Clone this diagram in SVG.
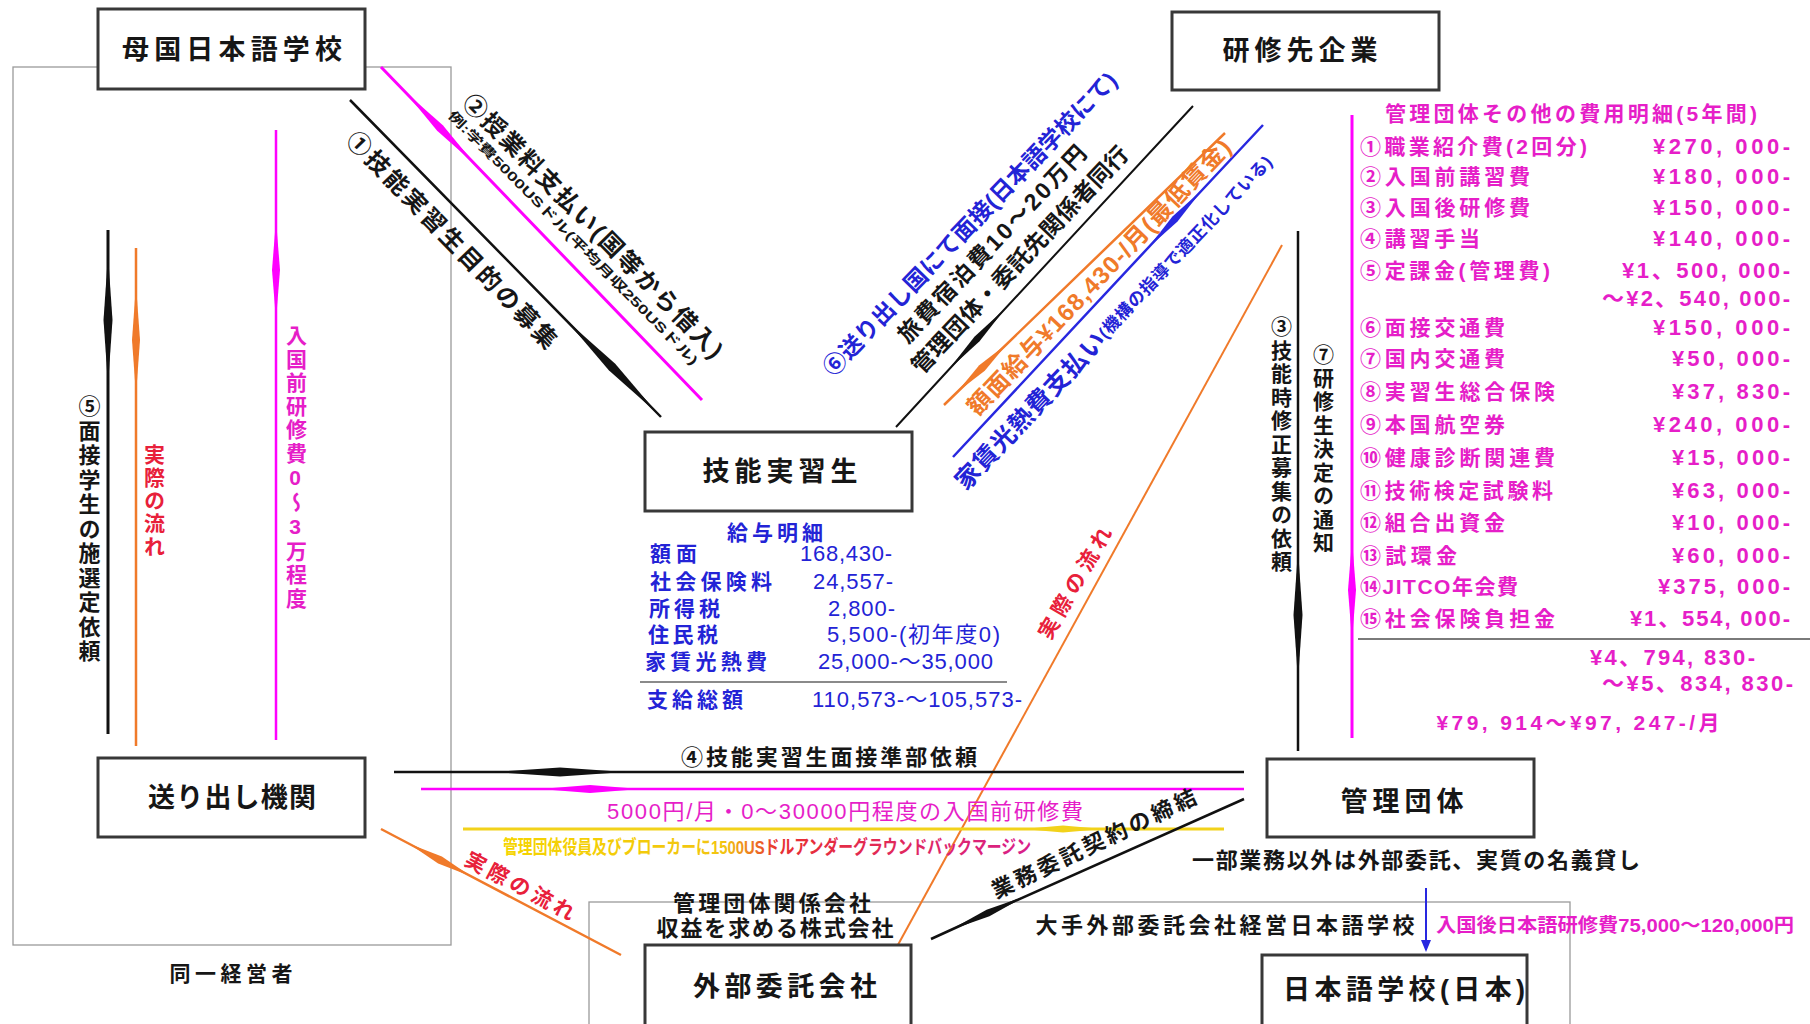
<svg xmlns="http://www.w3.org/2000/svg" width="1810" height="1024" viewBox="0 0 1810 1024">
<style>
text { font-family: 'Liberation Sans','Noto Sans CJK JP',sans-serif; dominant-baseline: central; font-weight: bold; }
.box { fill:#fff; stroke:#383838; stroke-width:3; }
.grp { fill:none; stroke:#9a9a9a; stroke-width:1.3; }
.bl { font-size:27px; fill:#161616; text-anchor:middle; }
.k { fill:#161616; }
.m { fill:#e61ec8; }
.b { fill:#2323d6; }
.r { fill:#e8203a; }
.o { fill:#f07a2a; }
.nw { font-weight:normal; }
.vt { writing-mode: vertical-rl; text-orientation: upright; }
.tb { font-size:21px; fill:#2323d6; }
.tn { font-size:22px; fill:#2323d6; font-weight:normal; }
.rt { font-size:21px; fill:#e61ec8; }
.rv { font-size:22px; fill:#e61ec8; text-anchor:end; }
.ln { fill:none; stroke-linecap:butt; }
</style>
<defs>
<marker id="spK" markerUnits="userSpaceOnUse" viewBox="-70 -6 140 12" markerWidth="140" markerHeight="12" refX="0" refY="0" orient="auto" overflow="visible"><path d="M-65,0 L0,-4.5 L65,0 L0,4.5 Z" fill="#111"/></marker>
<marker id="spKs" markerUnits="userSpaceOnUse" viewBox="-45 -5 90 10" markerWidth="90" markerHeight="10" refX="0" refY="0" orient="auto" overflow="visible"><path d="M-42,0 L0,-3.5 L42,0 L0,3.5 Z" fill="#111"/></marker>
<marker id="spM" markerUnits="userSpaceOnUse" viewBox="-55 -5 110 10" markerWidth="110" markerHeight="10" refX="0" refY="0" orient="auto" overflow="visible"><path d="M-50,0 L0,-4 L50,0 L0,4 Z" fill="#ff00ff"/></marker>
<marker id="spO" markerUnits="userSpaceOnUse" viewBox="-60 -5 120 10" markerWidth="120" markerHeight="10" refX="0" refY="0" orient="auto" overflow="visible"><path d="M-55,0 L0,-4 L55,0 L0,4 Z" fill="#f07a2a"/></marker>
<marker id="spOs" markerUnits="userSpaceOnUse" viewBox="-40 -5 80 10" markerWidth="80" markerHeight="10" refX="0" refY="0" orient="auto" overflow="visible"><path d="M-35,0 L0,-4 L35,0 L0,4 Z" fill="#f07a2a"/></marker>
<marker id="spB" markerUnits="userSpaceOnUse" viewBox="-45 -5 90 10" markerWidth="90" markerHeight="10" refX="0" refY="0" orient="auto" overflow="visible"><path d="M-40,0 L0,-3.5 L40,0 L0,3.5 Z" fill="#2828e0"/></marker>
<marker id="spY" markerUnits="userSpaceOnUse" viewBox="-45 -5 90 10" markerWidth="90" markerHeight="10" refX="0" refY="0" orient="auto" overflow="visible"><path d="M-40,0 L0,-3.5 L40,0 L0,3.5 Z" fill="#f2d21a"/></marker>
<marker id="arrB" markerUnits="userSpaceOnUse" viewBox="0 -6 12 12" markerWidth="12" markerHeight="12" refX="10" refY="0" orient="auto"><path d="M0,-5 L12,0 L0,5 Z" fill="#2828e0"/></marker>
<linearGradient id="yg" x1="503" y1="0" x2="1031" y2="0" gradientUnits="userSpaceOnUse">
<stop offset="0" stop-color="#f5d400"/><stop offset="0.42" stop-color="#f2c412"/><stop offset="0.52" stop-color="#e83030"/><stop offset="1" stop-color="#d8208a"/>
</linearGradient>
</defs>
<rect width="1810" height="1024" fill="#fff"/>

<g id="groupings">
<rect class="grp" x="13" y="67" width="438" height="878"/>
<rect class="grp" x="589" y="902" width="981" height="140"/>
<text x="231" y="973" class="k" font-size="21" text-anchor="middle" textLength="123">同一経営者</text>
</g>

<g id="connectors">
<path class="ln" d="M350,100 L612,367 L661,417" stroke="#111" stroke-width="2.5" marker-mid="url(#spK)"/>
<path class="ln" d="M702,400 L440,128 L381,67" stroke="#ff00ff" stroke-width="3" marker-mid="url(#spM)"/>
<path class="ln" d="M896,427 L977,339 L1193,106" stroke="#111" stroke-width="2" marker-mid="url(#spKs)"/>
<path class="ln" d="M944,405 L982,368 L1225,133" stroke="#f07a2a" stroke-width="2.5" marker-mid="url(#spOs)"/>
<path class="ln" d="M953,457 L1175,219 L1263,125" stroke="#2828e0" stroke-width="2.5" marker-mid="url(#spB)"/>
<path class="ln" d="M888,963 L1282,245" stroke="#f07a2a" stroke-width="2"/>
<path class="ln" d="M1298,231 L1298,615 L1298,751" stroke="#111" stroke-width="2.5" marker-mid="url(#spK)"/>
<path class="ln" d="M1352,115 L1352,590 L1352,738" stroke="#ff00ff" stroke-width="3" marker-mid="url(#spM)"/>
<path class="ln" d="M108,230 L108,320 L108,734" stroke="#111" stroke-width="3" marker-mid="url(#spK)"/>
<path class="ln" d="M136,248 L136,340 L136,746" stroke="#f07a2a" stroke-width="2.5" marker-mid="url(#spO)"/>
<path class="ln" d="M276,130 L276,270 L276,740" stroke="#ff00ff" stroke-width="2.5" marker-mid="url(#spM)"/>
<path class="ln" d="M394,772 L560,772 L1244,772" stroke="#111" stroke-width="2.5" marker-mid="url(#spK)"/>
<path class="ln" d="M421,789 L590,789 L1244,789" stroke="#ff00ff" stroke-width="2.5" marker-mid="url(#spM)"/>
<path class="ln" d="M463,829 L1063,829 L1224,829" stroke="#f2d21a" stroke-width="3" marker-mid="url(#spY)"/>
<path class="ln" d="M381,829 L440,860 L621,955" stroke="#f07a2a" stroke-width="2.5" marker-mid="url(#spOs)"/>
<path class="ln" d="M931,939 L988,913 L1244,799" stroke="#111" stroke-width="2.5" marker-mid="url(#spKs)"/>
<path class="ln" d="M1426,888 L1426,950" stroke="#2828e0" stroke-width="2" marker-end="url(#arrB)"/>
</g>

<g id="connector-labels">
<text class="k" font-size="24" text-anchor="middle" transform="translate(452,240) rotate(46)" textLength="291">①技能実習生目的の募集</text>
<text class="k" font-size="24" text-anchor="middle" transform="translate(593,226) rotate(45.5)" textLength="359">②授業料支払い(国等から借入)</text>
<text class="k" font-size="13" text-anchor="middle" transform="translate(573,238) rotate(45.5)" textLength="350" lengthAdjust="spacingAndGlyphs">例:学費5000USドル(平均月収250USドル)</text>
<text class="b" font-size="23" text-anchor="middle" transform="translate(970,224) rotate(-46)" textLength="411">⑥送り出し国にて面接(日本語学校にて)</text>
<text class="k" font-size="23" text-anchor="middle" transform="translate(992,244) rotate(-46.5)" textLength="262">旅費宿泊費10～20万円</text>
<text class="k" font-size="23" text-anchor="middle" transform="translate(1020,260) rotate(-46.5)" textLength="303">管理団体・委託先関係者同行</text>
<text class="o" font-size="24" text-anchor="middle" transform="translate(1099,277) rotate(-46.5)" textLength="370">額面給与¥168,430-/月(最低賃金)</text>
<text class="b" text-anchor="middle" transform="translate(1114,322) rotate(-46.5)" textLength="450"><tspan font-size="25">家賃光熱費支払い</tspan><tspan font-size="17">(機構の指導で適正化している)</tspan></text>
<text class="r" font-size="21" text-anchor="middle" transform="translate(1075,583) rotate(-60)" textLength="125">実際の流れ</text>
<text class="r" font-size="21" text-anchor="middle" transform="translate(520,886) rotate(28)" textLength="121">実際の流れ</text>
<text class="k" font-size="22" text-anchor="middle" transform="translate(1094,844) rotate(-25.5)" textLength="224">業務委託契約の締結</text>
<text class="k vt" font-size="22" x="87" y="395" letter-spacing="2.5">⑤面接学生の施選定依頼</text>
<text class="r vt" font-size="21" x="153" y="444" letter-spacing="2">実際の流れ</text>
<text class="m vt" font-size="21" x="295" y="325" letter-spacing="2.5">入国前研修費0～3万程度</text>
<text class="k vt" font-size="21" x="1280" y="316" letter-spacing="2.5">③技能時修正募集の依頼</text>
<text class="k vt" font-size="21" x="1322" y="344" letter-spacing="2.5">⑦研修生決定の通知</text>
<text class="k" font-size="22" x="829" y="757" text-anchor="middle" textLength="296">④技能実習生面接準部依頼</text>
<text class="m nw" font-size="22" x="845" y="811" text-anchor="middle" textLength="476">5000円/月・0～30000円程度の入国前研修費</text>
<text font-size="19" x="767" y="847" text-anchor="middle" fill="url(#yg)" textLength="528" lengthAdjust="spacingAndGlyphs">管理団体役員及びブローカーに1500USドルアンダーグラウンドバックマージン</text>
<text class="k" font-size="22" x="772" y="903" text-anchor="middle" textLength="198">管理団体関係会社</text>
<text class="k" font-size="22" x="775" y="928" text-anchor="middle" textLength="237">収益を求める株式会社</text>
<text class="k" font-size="22" x="1416" y="860" text-anchor="middle" textLength="448">一部業務以外は外部委託、実質の名義貸し</text>
<text class="k" font-size="22" x="1225" y="925" text-anchor="middle" textLength="379">大手外部委託会社経営日本語学校</text>
<text class="m" font-size="19" x="1615" y="925" text-anchor="middle" textLength="358" lengthAdjust="spacingAndGlyphs">入国後日本語研修費75,000～120,000円</text>
</g>

<g id="node-bokoku-nihongo"><rect class="box" x="98" y="9" width="267" height="80"/><text class="bl" x="232" y="50" textLength="220">母国日本語学校</text></g>
<g id="node-kenshusaki"><rect class="box" x="1172" y="12" width="267" height="78"/><text class="bl" x="1300" y="51" textLength="155">研修先企業</text></g>
<g id="node-jisshusei"><rect class="box" x="645" y="432" width="267" height="79"/><text class="bl" x="780" y="472" textLength="155">技能実習生</text></g>
<g id="node-okuridashi"><rect class="box" x="98" y="758" width="267" height="79"/><text class="bl" x="232" y="798" textLength="168">送り出し機関</text></g>
<g id="node-kanri"><rect class="box" x="1267" y="759" width="267" height="78"/><text class="bl" x="1402" y="802" textLength="123">管理団体</text></g>
<g id="node-gaibu"><rect class="box" x="645" y="945" width="266" height="90"/><text class="bl" x="785" y="987" textLength="184">外部委託会社</text></g>
<g id="node-nihongo-jp"><rect class="box" x="1262" y="955" width="265" height="80"/><text class="bl" x="1404" y="990" textLength="242">日本語学校(日本)</text></g>

<g id="salary-table">
<text class="tb" x="775" y="532" text-anchor="middle" textLength="96">給与明細</text>
<text class="tb" x="650" y="553" textLength="47">額面</text>
<text class="tn" x="800" y="553" textLength="92">168,430-</text>
<text class="tb" x="650" y="581" textLength="122">社会保険料</text>
<text class="tn" x="813" y="581" textLength="80">24,557-</text>
<text class="tb" x="649" y="608" textLength="71">所得税</text>
<text class="tn" x="828" y="608" textLength="67">2,800-</text>
<text class="tb" x="648" y="634" textLength="70">住民税</text>
<text class="tn" x="827" y="634" textLength="173">5,500-(初年度0)</text>
<text class="tb" x="645" y="661" textLength="122">家賃光熱費</text>
<text class="tn" x="818" y="661" textLength="175">25,000-～35,000</text>
<line x1="640" y1="682" x2="1007" y2="682" stroke="#8a8a8a" stroke-width="2"/>
<text class="tb" x="647" y="699" textLength="96">支給総額</text>
<text class="tn" x="812" y="699" textLength="210">110,573-～105,573-</text>
</g>

<g id="cost-table">
<text class="rt" x="1571" y="113" text-anchor="middle" textLength="372">管理団体その他の費用明細(5年間)</text>
<text class="rt" x="1360" y="146" textLength="227">①職業紹介費(2回分)</text><text class="rv" x="1790" y="146" textLength="137">¥270, 000-</text>
<text class="rt" x="1360" y="176" textLength="170">②入国前講習費</text><text class="rv" x="1790" y="176" textLength="137">¥180, 000-</text>
<text class="rt" x="1360" y="207" textLength="170">③入国後研修費</text><text class="rv" x="1790" y="207" textLength="137">¥150, 000-</text>
<text class="rt" x="1360" y="238" textLength="120">④講習手当</text><text class="rv" x="1790" y="238" textLength="137">¥140, 000-</text>
<text class="rt" x="1360" y="270" textLength="190">⑤定課金(管理費)</text><text class="rv" x="1790" y="270" textLength="168">¥1、500, 000-</text>
<text class="rv" x="1790" y="298" textLength="188">～¥2、540, 000-</text>
<text class="rt" x="1360" y="327" textLength="145">⑥面接交通費</text><text class="rv" x="1790" y="327" textLength="137">¥150, 000-</text>
<text class="rt" x="1360" y="358" textLength="145">⑦国内交通費</text><text class="rv" x="1790" y="358" textLength="118">¥50, 000-</text>
<text class="rt" x="1360" y="391" textLength="195">⑧実習生総合保険</text><text class="rv" x="1790" y="391" textLength="118">¥37, 830-</text>
<text class="rt" x="1360" y="424" textLength="145">⑨本国航空券</text><text class="rv" x="1790" y="424" textLength="137">¥240, 000-</text>
<text class="rt" x="1360" y="457" textLength="195">⑩健康診断関連費</text><text class="rv" x="1790" y="457" textLength="118">¥15, 000-</text>
<text class="rt" x="1360" y="490" textLength="193">⑪技術検定試験料</text><text class="rv" x="1790" y="490" textLength="118">¥63, 000-</text>
<text class="rt" x="1360" y="522" textLength="145">⑫組合出資金</text><text class="rv" x="1790" y="522" textLength="118">¥10, 000-</text>
<text class="rt" x="1360" y="555" textLength="97">⑬試環金</text><text class="rv" x="1790" y="555" textLength="118">¥60, 000-</text>
<text class="rt" x="1360" y="586" textLength="158">⑭JITCO年会費</text><text class="rv" x="1790" y="586" textLength="132">¥375, 000-</text>
<text class="rt" x="1360" y="618" textLength="195">⑮社会保険負担金</text><text class="rv" x="1790" y="618" textLength="160">¥1、554, 000-</text>
<line x1="1358" y1="639" x2="1810" y2="639" stroke="#7a7a7a" stroke-width="2"/>
<text class="rv" x="1755" y="657" textLength="165">¥4、794, 830-</text>
<text class="rv" x="1793" y="683" textLength="191">～¥5、834, 830-</text>
<text class="rt" x="1578" y="722" text-anchor="middle" font-size="22" textLength="283">¥79, 914～¥97, 247-/月</text>
</g>
</svg>
